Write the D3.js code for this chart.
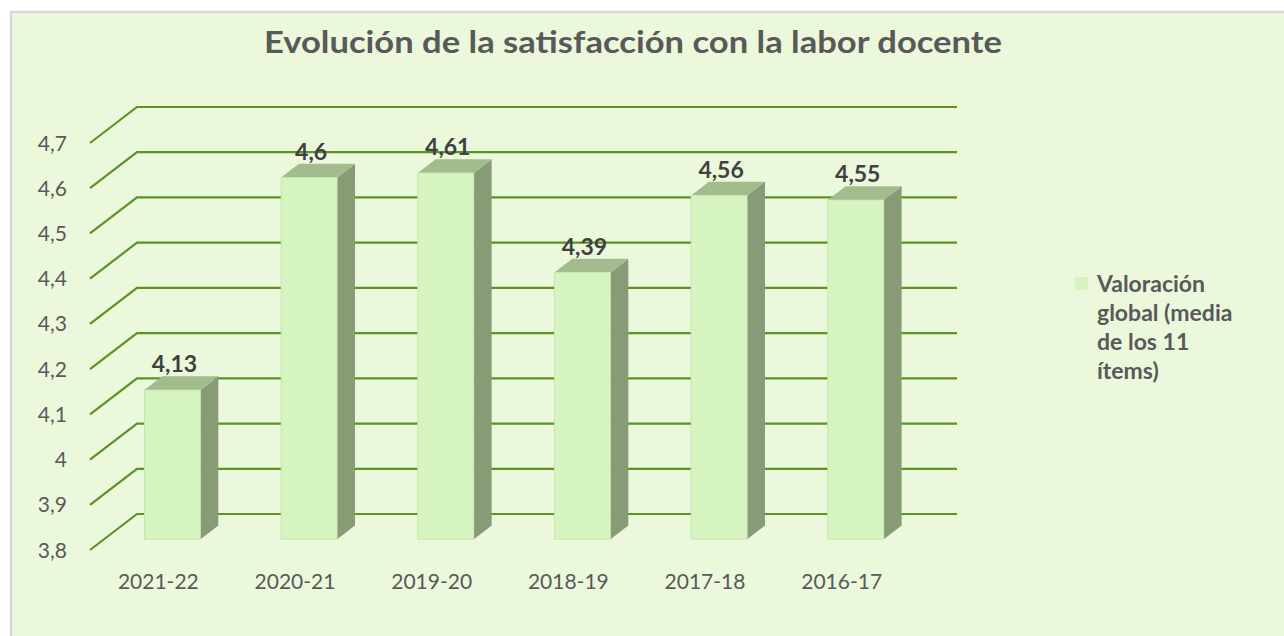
<!DOCTYPE html>
<html><head><meta charset="utf-8">
<script src="https://cdn.jsdelivr.net/npm/d3@7"></script>
<style>
html,body{margin:0;padding:0;background:#fff;}
text{font-family:Lato,"Open Sans",sans-serif;}
</style></head>
<body>
<svg id="chart" width="1284" height="636"></svg>
<script>
const categories = ["2021-22","2020-21","2019-20","2018-19","2017-18","2016-17"];
const values = [4.13,4.6,4.61,4.39,4.56,4.55];
const valueLabels = ["4,13","4,6","4,61","4,39","4,56","4,55"];
const yTicks = [3.8,3.9,4.0,4.1,4.2,4.3,4.4,4.5,4.6,4.7];
const yTickLabels = ["3,8","3,9","4","4,1","4,2","4,3","4,4","4,5","4,6","4,7"];
const seriesName = ["Valoración","global (media","de los 11","ítems)"];
const title = "Evolución de la satisfacción con la labor docente";

const svg = d3.select("#chart");
svg.append("rect").attr("x",11).attr("y",12).attr("width",1290).attr("height",640)
  .attr("fill","#EBF8DC").attr("stroke","#D9D9D9").attr("stroke-width",2.5);

const x = d3.scaleBand().domain(categories).range([90,910]).paddingInner(0).paddingOuter(0);
const y = d3.scaleLinear().domain([3.8,4.7]).range([550,143]);
const DX = 47, DY = -36;
const proj = (px,py,z)=>[px+z*DX, py+z*DY];

const g = svg.append("g");
yTicks.forEach(t=>{
  const p0 = proj(90,y(t),0), p1 = proj(90,y(t),1), p2 = proj(910,y(t),1);
  g.append("polyline").attr("points",[p0,p1,p2].map(p=>p.join(",")).join(" "))
    .attr("fill","none").attr("stroke","#5C9322").attr("stroke-width",2.2);
});

svg.append("g").selectAll("text").data(yTicks).join("text")
  .attr("x",67).attr("y",d=>y(d)).attr("dy","0.36em").attr("text-anchor","end")
  .attr("font-size",21).attr("fill","#595959").text((d,i)=>yTickLabels[i]);

svg.append("g").selectAll("text").data(categories).join("text")
  .attr("x",d=>x(d)+x.bandwidth()/2).attr("y",589).attr("text-anchor","middle")
  .attr("font-size",21).attr("fill","#595959").text(d=>d);

const z0 = 0.3, z1 = 0.68;
const bw = x.bandwidth()*0.41;
const bars = svg.append("g");
categories.forEach((c,i)=>{
  const cx = x(c)+x.bandwidth()/2;
  const xl = cx-bw/2, xr = cx+bw/2;
  const yb = y(3.8), yt = y(values[i]);
  const F = (px,py,z)=>proj(px,py,z).join(",");
  bars.append("polygon").attr("points",[F(xr,yb,z0),F(xr,yb,z1),F(xr,yt,z1),F(xr,yt,z0)].join(" "))
    .attr("fill","#879B77");
  bars.append("polygon").attr("points",[F(xl,yt,z0),F(xr,yt,z0),F(xr,yt,z1),F(xl,yt,z1)].join(" "))
    .attr("fill","#A2BC8E");
  const p = proj(xl,yt,z0);
  bars.append("rect").attr("x",p[0]).attr("y",p[1]).attr("width",bw).attr("height",yb-yt)
    .attr("fill","#D5F4C0").attr("stroke","#C4E3AE").attr("stroke-width",0.8);
  const lp = proj(cx+2, yt, z1);
  bars.append("text").attr("x",proj(cx+2,yt,z0)[0]).attr("y",lp[1]-4).attr("text-anchor","middle")
    .attr("font-size",23).attr("font-weight","bold").attr("fill","#404040").text(valueLabels[i]);
});

svg.append("text").attr("x",633).attr("y",53).attr("text-anchor","middle")
  .attr("font-size",30).attr("font-weight","bold").attr("fill","#595959")
  .attr("textLength",738).attr("lengthAdjust","spacingAndGlyphs").text(title);

const lg = svg.append("g");
lg.append("rect").attr("x",1075).attr("y",277).attr("width",13).attr("height",13).attr("fill","#D5F4C0");
lg.selectAll("text").data(seriesName).join("text")
  .attr("x",1097).attr("y",(d,i)=>292+i*29).attr("font-size",23).attr("font-weight","bold")
  .attr("fill","#595959").text(d=>d);
</script>
</body></html>
